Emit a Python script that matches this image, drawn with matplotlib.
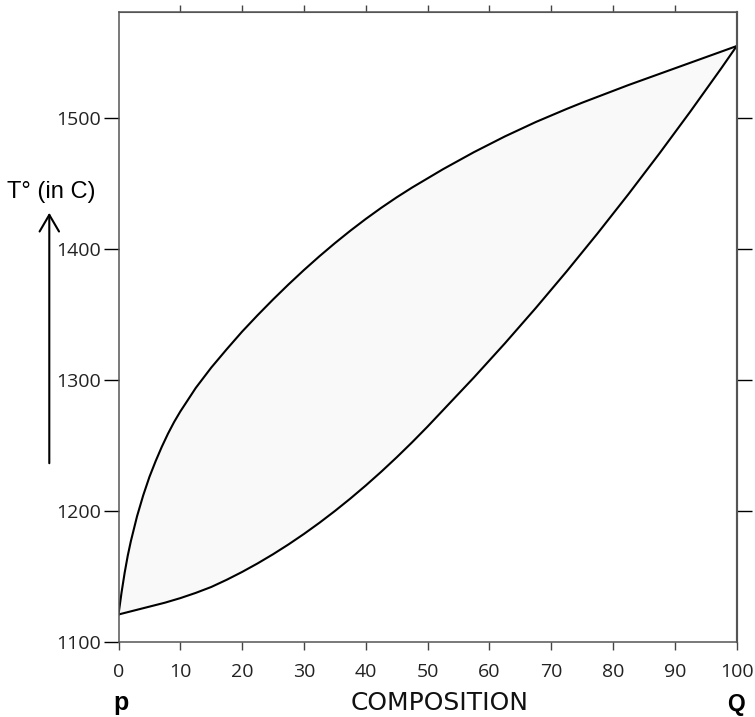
import matplotlib
matplotlib.use('Agg')
import matplotlib.pyplot as plt
from matplotlib import font_manager

# liquidus (upper curve)
liq_comp = [0, 0.5, 1, 1.5, 2, 3, 4, 5, 6, 7, 8, 9, 10, 12.5, 15, 17.5, 20, 22.5, 25,
            27.5, 30, 32.5, 35, 37.5, 40, 42.5, 45, 47.5, 50, 52.5, 55, 57.5, 60, 62.5,
            65, 67.5, 70, 72.5, 75, 77.5, 80, 82.5, 85, 87.5, 90, 92.5, 95, 97.5, 100]
liq_temp = [1121, 1138, 1153, 1166, 1177, 1196, 1212, 1226, 1238, 1249, 1259, 1268,
            1276, 1294, 1309.5, 1323.5, 1337, 1349.5, 1361.5, 1373, 1384, 1394.5,
            1404.5, 1414, 1423, 1431.5, 1439.5, 1447, 1454, 1461, 1467.5, 1474,
            1480, 1486, 1491.5, 1497, 1502, 1507, 1511.75, 1516.25, 1520.75, 1525.25,
            1529.5, 1533.75, 1538, 1542.25, 1546.5, 1550.75, 1555]

# solidus (lower curve)
sol_comp = [0, 2.5, 5, 7.5, 10, 12.5, 15, 17.5, 20, 22.5, 25, 27.5, 30, 32.5, 35, 37.5,
            40, 42.5, 45, 47.5, 50, 52.5, 55, 57.5, 60, 62.5, 65, 67.5, 70, 72.5, 75,
            77.5, 80, 82.5, 85, 87.5, 90, 92.5, 95, 97.5, 100]
sol_temp = [1121, 1124, 1127, 1130, 1133.5, 1137.5, 1142, 1147.5, 1153.5, 1160, 1167,
            1174.5, 1182.5, 1191, 1200, 1209.5, 1219.5, 1230, 1241, 1252.5, 1264.5,
            1277, 1289.5, 1302, 1315, 1328, 1341.5, 1355, 1369, 1383, 1397.5, 1412,
            1427, 1442, 1457.5, 1473, 1489, 1505, 1521.5, 1538, 1555]

x_ticks = [0, 10, 20, 30, 40, 50, 60, 70, 80, 90, 100]
top_ticks = [10, 20, 30, 40, 50, 60, 70, 80, 90]
y_ticks = [1100, 1200, 1300, 1400, 1500]
right_ticks = [1200, 1300, 1400, 1500]

# pick a narrow face for the tick numbers if there is one
installed = {f.name for f in font_manager.fontManager.ttflist}
tick_font = 'Liberation Sans Narrow' if 'Liberation Sans Narrow' in installed else 'Open Sans'
tick_size = 15.5 if tick_font == 'Liberation Sans Narrow' else 14

W, H = 755, 717
fig = plt.figure(figsize=(W / 100, H / 100), dpi=100)
ax = fig.add_axes([118.5 / W, 1 - 642 / H, (736.7 - 118.5) / W, (642 - 12) / H])

# two-phase region
ax.fill(liq_comp + sol_comp[::-1], liq_temp + sol_temp[::-1], color='#f9f9f9', zorder=1)
ax.plot(liq_comp, liq_temp, color='black', lw=1.5, zorder=2)
ax.plot(sol_comp, sol_temp, color='black', lw=1.5, zorder=2)

ax.set_xlim(0, 100)
ax.set_ylim(1100, 1581)

for s in ax.spines.values():
    s.set_color('#555555')
    s.set_linewidth(1.1)
ax.spines['right'].set_linewidth(1.5)

ax.set_xticks(x_ticks)
ax.set_yticks(y_ticks)
ax.tick_params(axis='x', direction='out', length=6, width=1, color='#444444',
               pad=9, top=False, labelsize=tick_size, labelcolor='#222222')
ax.tick_params(axis='y', direction='out', length=10.8, width=1, color='black',
               pad=2, right=False, labelsize=tick_size, labelcolor='#222222')
for lab in ax.get_xticklabels() + ax.get_yticklabels():
    lab.set_family(tick_font)

# top and right ticks without labels
top = ax.secondary_xaxis('top')
top.set_xticks(top_ticks)
top.tick_params(direction='out', length=5, width=1, color='#444444', labeltop=False)
top.spines['top'].set_color('#555555')
right = ax.secondary_yaxis('right')
right.set_yticks(right_ticks)
right.tick_params(direction='out', length=10.8, width=1, color='black', labelright=False)
right.spines['right'].set_color('#555555')
right.spines['right'].set_linewidth(1.5)

# labels
fig.text(439.5 / W, 1 - 703 / H, 'COMPOSITION', ha='center', va='center',
         family='DejaVu Sans', fontsize=18, color='#111111')
fig.text(120.5 / W, 1 - 710 / H, 'p', ha='center', va='baseline',
         family='Liberation Sans', fontweight='bold', fontsize=18)
fig.text(736.5 / W, 1 - 711 / H, 'Q', ha='center', va='baseline',
         family='Liberation Sans', fontweight='bold', fontsize=16.5)
fig.text(7 / W, 1 - 192 / H, 'T° (in C)', ha='left', va='center',
         family='Liberation Sans', fontsize=17)
fig.add_artist(matplotlib.patches.FancyArrowPatch(
    (49.3 / W, 1 - 466 / H), (49.3 / W, 1 - 210 / H), transform=fig.transFigure,
    arrowstyle='->,head_length=0.6,head_width=0.35', mutation_scale=20,
    color='black', lw=1.5))

fig.savefig('out.png', dpi=100)
